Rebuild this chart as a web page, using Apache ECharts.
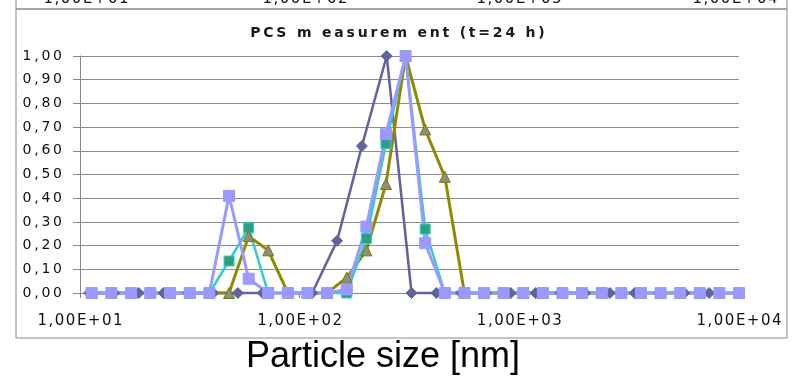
<!DOCTYPE html>
<html>
<head>
<meta charset="utf-8">
<script src="https://cdn.jsdelivr.net/npm/echarts@6/dist/echarts.min.js"></script>
<style>
  html, body { margin: 0; padding: 0; background: #fff; }
  #chart { width: 795px; height: 376px; }
</style>
</head>
<body>
<div id="chart"></div>
<script>
// size classes of the first measurement (diamonds), nm
var sizesA = [11.0, 14.3, 18.5, 24.0, 31.1, 40.4, 52.3, 67.9, 88.0, 114, 148, 192, 249, 323,
              419, 543, 704, 914, 1185, 1536, 1993, 2584, 3351, 4346, 5636, 7310];
var darkVals = [0, 0, 0, 0, 0, 0, 0, 0, 0, 0, 0.22, 0.62, 1.00, 0,
                0, 0, 0, 0, 0, 0, 0, 0, 0, 0, 0, 0];

// size classes of the other three measurements, nm
var sizesB = [11.3, 13.9, 17.1, 20.9, 25.7, 31.6, 38.8, 47.7, 58.6, 71.9, 88.4, 108.5, 133.3, 163.8,
              201.2, 247.1, 303.5, 372.8, 457.9, 562.3, 690.7, 848.4, 1042, 1280, 1572, 1931, 2372,
              2913, 3579, 4395, 5399, 6631, 8145, 10000];
var oliveVals = [0, 0, 0, 0, 0, 0, 0, 0, 0.24, 0.18, 0, 0, 0, 0.065,
                 0.18, 0.46, 1.00, 0.69, 0.49, 0, 0, 0, 0, 0, 0, 0, 0,
                 0, 0, 0, 0, 0, 0, 0];
var tealVals = [0, 0, 0, 0, 0, 0, 0, 0.135, 0.275, 0, 0, 0, 0, 0,
                0.23, 0.63, 1.00, 0.27, 0, 0, 0, 0, 0, 0, 0, 0, 0,
                0, 0, 0, 0, 0, 0, 0];
var lilacVals = [0, 0, 0, 0, 0, 0, 0, 0.41, 0.06, 0, 0, 0, 0, 0.015,
                 0.28, 0.67, 1.00, 0.21, 0, 0, 0, 0, 0, 0, 0, 0, 0,
                 0, 0, 0, 0, 0, 0, 0];

var xTicks = [10, 100, 1000, 10000];

// excel spreads the glyphs out, fake it with narrow spaces
function spaced(s, sp) {
    return s.split('').join(sp || '\u2009');
}
function pairs(xs, ys) {
    return xs.map(function (x, i) { return [x, ys[i]]; });
}
function expLabel(v) {
    var e = Math.round(Math.log(v) / Math.LN10);
    return '1,00E+' + (e < 10 ? '0' : '') + e;
}

var lines = [
    {data: pairs(sizesA, darkVals), color: '#62629c', w: 2.5},
    {data: pairs(sizesB, oliveVals), color: '#8c8c00', w: 3},
    {data: pairs(sizesB, tealVals), color: '#33cccc', w: 2.5},
    {data: pairs(sizesB, lilacVals), color: '#9999ff', w: 3}
];
var marks = [
    {data: pairs(sizesA, darkVals), symbol: 'diamond', size: 11, fill: '#62629c', border: '#62629c'},
    {data: pairs(sizesB, tealVals), symbol: 'rect', size: 10, fill: '#2e9e80', border: '#33cccc'},
    {data: pairs(sizesB, oliveVals), symbol: 'triangle', size: 11, fill: '#8e8e7a', border: '#7a7a00'},
    {data: pairs(sizesB, lilacVals), symbol: 'rect', size: 11, fill: '#9999ff', border: '#9999ff'}
];

var series = [];
lines.forEach(function (l) {
    series.push({
        type: 'line', data: l.data, symbol: 'none', z: 2, clip: false,
        lineStyle: {color: l.color, width: l.w}, silent: true
    });
});
marks.forEach(function (m) {
    series.push({
        type: 'scatter', data: m.data, symbol: m.symbol, symbolSize: m.size, z: 3, clip: false,
        itemStyle: {color: m.fill, borderColor: m.border, borderWidth: 1, opacity: 1}, silent: true
    });
});

var topLabelX = [86, 305, 519, 735];
var graphics = [
    // frame of the chart above (only its bottom is in the picture)
    {type: 'rect', shape: {x: 16, y: -40, width: 771, height: 49}, style: {fill: 'none', stroke: '#8a8a8a', lineWidth: 1}},
    {type: 'rect', shape: {x: 16, y: 9, width: 771, height: 329}, style: {fill: 'none', stroke: '#8a8a8a', lineWidth: 1}},
    {type: 'text', x: 383, y: 357, style: {text: 'Particle size [nm]', fontFamily: 'Liberation Sans', fontSize: 36, fill: '#000', textAlign: 'center', textVerticalAlign: 'middle'}}
];
xTicks.forEach(function (t, i) {
    graphics.push({type: 'text', x: topLabelX[i], y: 7,
        style: {text: spaced(expLabel(t), '\u200A'), fontFamily: 'DejaVu Sans', fontSize: 15, fill: '#111', textAlign: 'center', textVerticalAlign: 'bottom'}});
});

var chart = echarts.init(document.getElementById('chart'));
chart.setOption({
    animation: false,
    title: {
        text: spaced('PCS m easurem ent (t=24 h)', '\u2009'),
        left: 'center',
        top: 21,
        textStyle: {fontFamily: 'DejaVu Sans', fontSize: 14, fontWeight: 'bold', color: '#1a1a1a'}
    },
    grid: {left: 80, right: 56, top: 56, bottom: 83},
    xAxis: {
        type: 'log', logBase: 10, min: 10, max: 10000,
        axisLine: {show: true, onZero: false, lineStyle: {color: '#888', width: 1}},
        axisTick: {show: true, length: 5, lineStyle: {color: '#888'}},
        minorTick: {show: false},
        splitLine: {show: false},
        axisLabel: {
            margin: 21, color: '#111', fontFamily: 'DejaVu Sans', fontSize: 15,
            formatter: function (v) { return spaced(expLabel(v), '\u200A'); }
        }
    },
    yAxis: {
        type: 'value', min: 0, max: 1, interval: 0.1,
        axisLine: {show: true, lineStyle: {color: '#888', width: 1}},
        axisTick: {show: true, length: 7, lineStyle: {color: '#888'}},
        splitLine: {show: true, lineStyle: {color: '#8c8c8c', width: 1}},
        axisLabel: {
            margin: 18, color: '#111', fontFamily: 'DejaVu Sans', fontSize: 14,
            formatter: function (v) { return spaced(v.toFixed(2).replace('.', ',')); }
        }
    },
    graphic: graphics,
    series: series
});
</script>
</body>
</html>
